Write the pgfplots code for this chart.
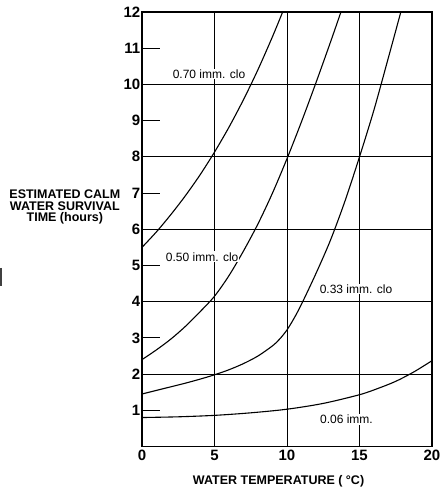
\documentclass[border=0pt]{standalone}
\usepackage{fontspec}
\setmainfont{Liberation Sans}
\usepackage{pgfplots}
\pgfplotsset{compat=1.18}
\begin{document}
\begin{tikzpicture}[x=1pt,y=1pt]
\useasboundingbox (0,0) rectangle (440,493);
\begin{axis}[
  at={(142pt,46.5pt)}, anchor=south west,
  scale only axis, width=290pt, height=434.5pt,
  xmin=0, xmax=20, ymin=0, ymax=12,
  xtick={0,5,10,15,20},
  ytick={2,4,...,12},
  extra y ticks={1,3,...,11},
  extra y tick style={grid=none},
  xmajorgrids, ymajorgrids,
  grid style={black, line width=0.9pt},
  axis line style={black, line width=1.3pt},
  tick align=inside, major tick length=18pt,
  tick style={black, line width=0.9pt},
  xtick pos=bottom, ytick pos=left,
  /pgf/number format/assume math mode=true,
  ticklabel style={font=\bfseries\fontsize{15}{15}\selectfont},
  yticklabel style={inner sep=1.5pt},
  xticklabel style={inner sep=3pt},
  xlabel={WATER TEMPERATURE ( °C)},
  ylabel={ESTIMATED CALM\\WATER SURVIVAL\\TIME (hours)},
  every axis x label/.style={at={(axis description cs:0.471,-0.081)}, anchor=center, font=\bfseries\fontsize{12.5}{12}\selectfont},
  every axis y label/.style={at={(axis description cs:-0.266,0.551)}, anchor=center, align=center, font=\bfseries\fontsize{12.5}{11.8}\selectfont},
  clip=true,
]
% 0.70 imm. clo
\addplot[black, line width=1.1pt, smooth] coordinates {
 (0,5.5) (1,5.93) (2,6.41) (3,6.93) (4,7.50) (5,8.13) (6,8.82) (7,9.58) (8,10.41) (9,11.32) (9.7,12)
};
% 0.50 imm. clo
\addplot[black, line width=1.1pt, smooth] coordinates {
 (0,2.4) (1,2.67) (2,2.97) (3,3.32) (4,3.72) (5,4.15) (6,4.72) (7,5.4) (8,6.15) (9,7.0) (10,7.95) (11,8.97) (12,10.05) (13,11.17) (13.72,12)
};
% 0.33 imm. clo
\addplot[black, line width=1.1pt, smooth] coordinates {
 (0,1.45) (1,1.55) (2,1.65) (3,1.75) (4,1.86) (5,1.98) (6,2.12) (7,2.29) (8,2.50) (9,2.78) (9.5,2.97) (10,3.22) (10.5,3.55) (11,3.93) (12,4.78) (13,5.7) (14,6.78) (15,8.0) (16,9.3) (17,10.75) (17.85,12)
};
% 0.06 imm.
\addplot[black, line width=1.1pt, smooth] coordinates {
 (0,0.8) (2.5,0.82) (5,0.86) (7.5,0.93) (10,1.03) (12.5,1.19) (15,1.43) (16.25,1.60) (17.5,1.80) (18.75,2.06) (20,2.37)
};
\node[fill=white, inner ysep=1pt, inner xsep=0.3pt, font=\fontsize{12}{12}\selectfont] at (axis cs:4.62,10.29) {0.70 imm. clo};
\node[fill=white, inner ysep=1pt, inner xsep=0.3pt, font=\fontsize{12}{12}\selectfont] at (axis cs:4.15,5.24) {0.50 imm. clo};
\node[fill=white, inner ysep=1pt, inner xsep=0.3pt, font=\fontsize{12}{12}\selectfont] at (axis cs:14.76,4.35) {0.33 imm. clo};
\node[fill=white, inner ysep=1pt, inner xsep=0.3pt, font=\fontsize{12}{12}\selectfont] at (axis cs:14.1,0.75) {0.06 imm.};
\end{axis}
\draw[line width=1.5pt, black!75] (0.8,225) -- (0.8,207);
\end{tikzpicture}
\end{document}
